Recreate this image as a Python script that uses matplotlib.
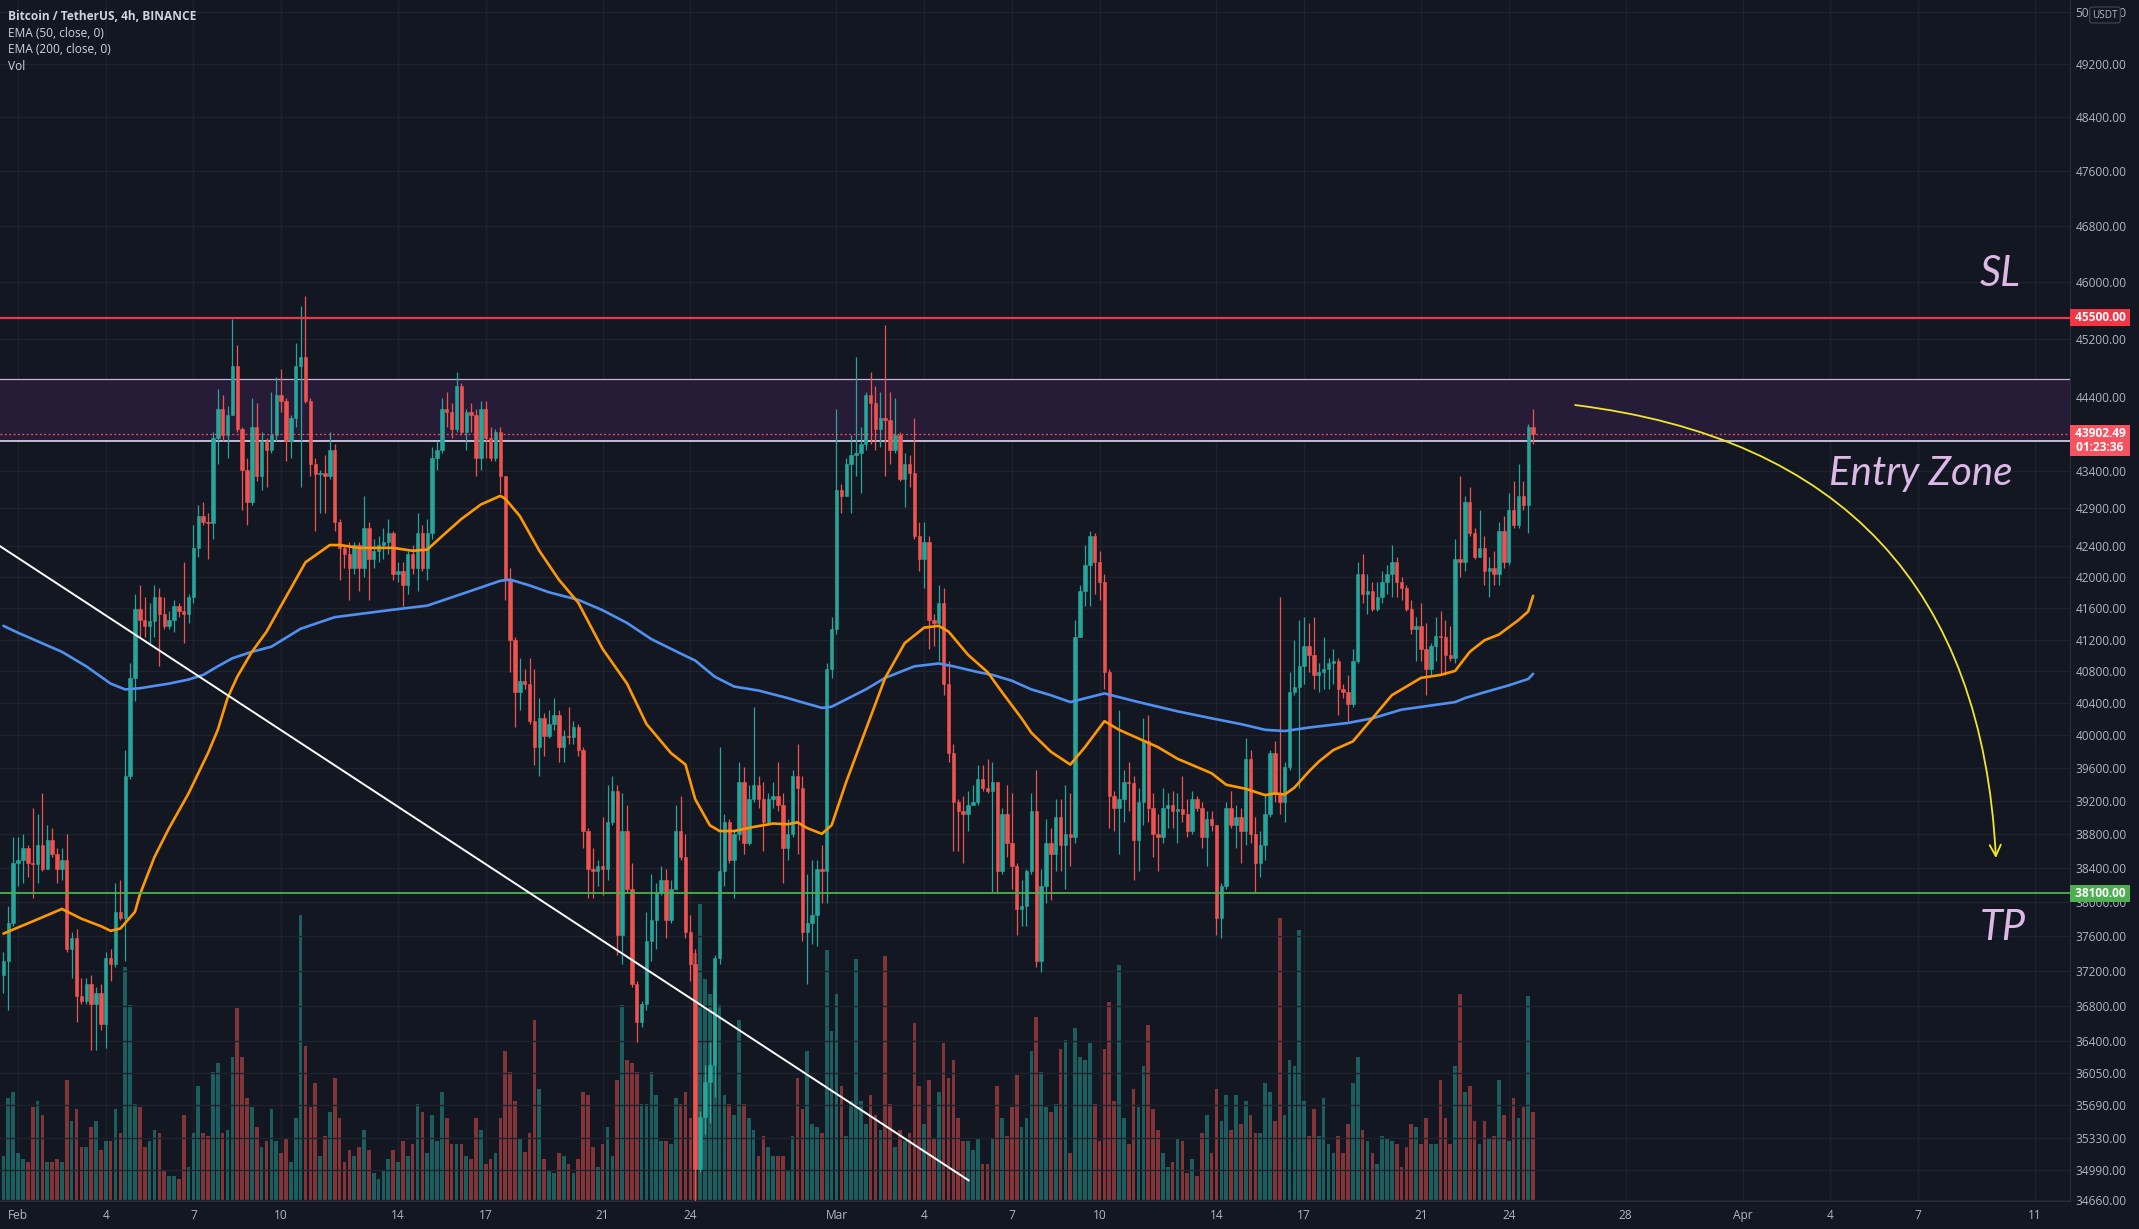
"""
BTCUSDT 4h (Binance) - TradingView style dark chart with EMA50/EMA200,
volume overlay, SL / Entry Zone / TP levels and a projected move arrow.
Output: out.png
"""
import numpy as np
import pandas as pd
import matplotlib
matplotlib.use("Agg")
import matplotlib.pyplot as plt
import matplotlib.dates as mdates
from matplotlib.ticker import NullLocator
from matplotlib.transforms import blended_transform_factory

plt.rcParams['font.family'] = ['Open Sans', 'DejaVu Sans']

BG = "#131722"; UP = "#26a69a"; DN = "#ef5350"; TXT = "#b2b5be"; GRID = "#1e222d"
ORANGE = "#ff9800"; BLUE = "#5090f0"; SLRED = "#f23645"; TPGREEN = "#4caf50"; PINK = "#dcb8e6"

# ---------- data (4h candles, first one 2022-01-31 12:00) ----------
start = "2022-01-31 12:00"
first_open = 37150
closes = [
    37315, 37750, 38460, 38495, 38632, 38460, 38447, 38667, 38392, 38736,
    38563, 38392, 38495, 37448, 37582, 36918, 36852, 37050, 36820, 36951,
    36590, 37348, 37281, 37883, 37816, 39502, 40717, 41597, 41449, 41375,
    41434, 41745, 41523, 41375, 41449, 41634, 41560, 41523, 41745, 42382,
    42799, 42723, 42708, 43841, 44233, 43880, 44155, 44830, 43958, 43414,
    42990, 43997, 43337, 43802, 43685, 43880, 44431, 44352, 43802, 44115,
    44830, 44950, 44352, 43491, 43352, 43368, 43337, 43685, 42723, 42382,
    42306, 42119, 42419, 42119, 42647, 42231, 42344, 42419, 42457, 42571,
    42044, 42081, 41894, 42306, 42119, 42571, 42119, 42571, 43569, 43685,
    44233, 44194, 43958, 44550, 43919, 44194, 44155, 43569, 44233, 43841,
    43569, 43919, 43337, 41969, 41191, 40536, 40681, 40645, 40177, 39856,
    40212, 39998, 40141, 40248, 39856, 39998, 39984, 40105, 39821, 38839,
    38392, 38358, 38426, 38392, 38943, 39327, 37616, 38839, 38153, 37050,
    36623, 36820, 37548, 37783, 38119, 38255, 37783, 38153, 38839, 38529,
    37649, 37281, 34997, 35562, 35945, 36137, 37348, 38358, 38943, 38495,
    38805, 39432, 38701, 39222, 39397, 39222, 38943, 39222, 39257, 39152,
    38632, 38805, 39502, 39362, 37649, 37750, 37850, 38392, 38358, 40826,
    41338, 43144, 43067, 43491, 43607, 43646, 43763, 44431, 44312, 43958,
    44115, 44084, 43685, 43880, 43298, 43491, 43375, 42533, 42231, 42457,
    41449, 41412, 41671, 40645, 39785, 39187, 39082, 39047, 39152, 39187,
    39467, 39362, 39327, 39432, 38358, 39047, 38701, 38426, 37917, 37950,
    38358, 39082, 37315, 38187, 38701, 38563, 39012, 38667, 38805, 38770,
    41228, 41819, 42156, 42533, 42194, 41932, 40790, 39257, 39117, 39222,
    39432, 39418, 38736, 39187, 39927, 39117, 38805, 38770, 39117, 39152,
    39082, 39103, 39047, 38839, 39222, 39117, 38770, 38978, 38908, 37816,
    38187, 39117, 38908, 39012, 38839, 39714, 38805, 38460, 38667, 39047,
    39785, 39292, 39187, 39608, 40536, 40608, 40862, 41118, 41008, 40754,
    40790, 40826, 40898, 40935, 40572, 40536, 40392, 40935, 42044, 41782,
    41819, 41597, 41745, 41932, 42044, 42194, 41932, 41857, 41597, 41338,
    41375, 41082, 40826, 41118, 41250, 41228, 41008, 40971, 42231, 42194,
    42990, 42571, 42269, 42382, 42081, 42119, 42044, 42609, 42194, 42876,
    42685, 43067, 42952, 43997, 43902.49]
highs = [
    37415, 37950, 38770, 38770, 38805, 38667, 39117, 39047, 39292, 38908,
    38874, 38632, 38632, 38805, 37649, 37683, 37116, 37116, 37149, 37017,
    37050, 37415, 37448, 38221, 38255, 39821, 40898, 41782, 41894, 41745,
    41671, 41894, 41857, 41745, 41560, 41708, 41671, 42194, 41782, 42685,
    42952, 42990, 42838, 43919, 44511, 44431, 44273, 45479, 45111, 43997,
    43569, 44392, 44312, 43919, 43841, 44471, 44670, 44790, 44392, 44155,
    45151, 45659, 45806, 44392, 43569, 43414, 43607, 43919, 43763, 42761,
    42419, 42457, 42457, 42457, 43067, 42723, 42495, 42533, 42647, 42761,
    42609, 42194, 42194, 42344, 42419, 42838, 42685, 42761, 43724, 43802,
    44392, 44471, 44312, 44750, 44590, 44233, 44312, 44233, 44352, 44352,
    43997, 43958, 43997, 43337, 42119, 41228, 40971, 40826, 40971, 40826,
    40464, 40284, 40320, 40464, 40320, 40070, 40356, 40177, 40141, 39856,
    38874, 38632, 38495, 39012, 39397, 39502, 39397, 39292, 39152, 38460,
    37083, 36852, 37883, 38324, 38221, 38426, 38392, 38255, 39152, 39257,
    38805, 37850, 37448, 35626, 36137, 36396, 37381, 39856, 39047, 38978,
    38839, 39679, 39608, 39397, 40356, 39502, 39432, 39292, 39432, 39679,
    39292, 38978, 39573, 39892, 39502, 38324, 38495, 38495, 38667, 40898,
    41486, 44233, 43221, 43569, 43880, 44950, 43997, 44471, 44750, 44550,
    44471, 45398, 44471, 44392, 43919, 43646, 43607, 44115, 42723, 42723,
    42533, 41523, 41894, 41857, 40935, 39892, 39222, 39257, 39327, 39397,
    39643, 39643, 39714, 39679, 39432, 39117, 39397, 39292, 38460, 38255,
    38392, 39292, 39573, 38392, 38978, 38874, 39222, 39222, 39397, 39292,
    41449, 41894, 42419, 42609, 42571, 42344, 42044, 40826, 39327, 40320,
    39573, 39679, 39502, 39362, 40212, 40248, 39292, 39047, 39362, 39292,
    39327, 39292, 39502, 39222, 39327, 39257, 39187, 39082, 39082, 38908,
    38221, 39187, 39327, 39152, 39117, 39963, 39821, 39012, 38839, 39292,
    39821, 39927, 41745, 39679, 40790, 41191, 41449, 41486, 41412, 41486,
    40898, 41228, 40971, 41082, 40971, 40645, 40754, 41082, 42194, 42306,
    42044, 41932, 41932, 42081, 42156, 42419, 42269, 42006, 41894, 41708,
    41486, 41671, 41412, 41155, 41486, 41560, 41449, 41375, 42495, 43337,
    43067, 43182, 42647, 42876, 42533, 42269, 42344, 42723, 42799, 43105,
    43260, 43491, 43260, 44036, 44233]
lows = [
    36950, 36755, 37716, 38187, 38221, 38290, 38051, 38221, 38358, 38392,
    38529, 38221, 38255, 37415, 37116, 36623, 36820, 36820, 36299, 36299,
    36525, 36331, 37083, 37248, 37783, 37315, 39467, 40428, 41228, 41228,
    41155, 41228, 40862, 41338, 41338, 41302, 41486, 41155, 41412, 41671,
    42269, 42685, 42231, 42495, 43491, 43802, 43569, 44155, 43919, 42876,
    42685, 42952, 43260, 43144, 43182, 43646, 43802, 44194, 43530, 43569,
    43997, 43182, 44312, 43337, 42609, 42838, 42838, 43298, 42609, 41969,
    42119, 41708, 42044, 41819, 42006, 41708, 42119, 42194, 42231, 42306,
    41969, 41932, 41634, 41782, 42044, 41819, 42081, 41969, 42495, 43414,
    43646, 43997, 43841, 43919, 43880, 43685, 43919, 43337, 43414, 43569,
    43530, 43530, 43105, 41708, 40790, 40105, 40320, 40572, 40141, 39643,
    39502, 39750, 39963, 40070, 39679, 39679, 39892, 39892, 39750, 38632,
    38051, 38051, 38187, 38085, 38255, 38908, 37381, 37281, 38119, 37017,
    36396, 36558, 36754, 37315, 37448, 38085, 37582, 37750, 38153, 38495,
    37582, 37083, 34320, 34966, 35373, 35499, 35785, 37281, 38187, 38460,
    38051, 38736, 38563, 38667, 39187, 39117, 38598, 38908, 39117, 39082,
    38221, 38495, 38770, 38563, 37548, 37050, 37515, 37482, 37983, 37983,
    40717, 41265, 42838, 43067, 42838, 43337, 43105, 43685, 43763, 43685,
    43724, 43337, 43491, 43646, 43260, 42914, 43182, 42495, 42081, 41857,
    41082, 41118, 40935, 40500, 39679, 38598, 38598, 38460, 38839, 39152,
    39152, 39327, 39292, 38119, 38119, 38324, 38529, 38153, 37616, 37716,
    37716, 38324, 37248, 37182, 37983, 38017, 38358, 38358, 38153, 38426,
    38701, 41228, 41634, 41634, 41782, 41708, 40572, 38874, 38839, 38563,
    38943, 39082, 38255, 38358, 38908, 38943, 38529, 38358, 38701, 38874,
    38874, 38701, 38943, 38770, 38805, 39082, 38632, 38426, 38839, 37616,
    37582, 38153, 38874, 38632, 38460, 38667, 38701, 38119, 38290, 38495,
    39012, 39187, 39047, 38943, 39573, 40500, 39362, 40645, 40790, 40572,
    40536, 40572, 40572, 40645, 40248, 40464, 40177, 40356, 40898, 41671,
    41523, 41560, 41560, 41671, 41782, 41745, 41745, 41708, 41560, 41265,
    40935, 40935, 40500, 40754, 40935, 40754, 40754, 40935, 40898, 42006,
    42081, 42533, 42231, 42269, 41894, 41745, 41894, 41894, 42119, 42156,
    42647, 42647, 42876, 42571, 43763]
volumes = [
    3120, 7120, 7520, 3320, 2920, 2720, 6520, 6920, 5920, 2720,
    2720, 2920, 2720, 8320, 5520, 6320, 3720, 3720, 5120, 5520,
    3520, 4120, 4120, 6320, 4720, 16120, 13520, 6720, 6520, 3720,
    4120, 4920, 4720, 2120, 1720, 1720, 1520, 5920, 2320, 4720,
    7920, 4720, 4520, 8920, 9520, 4720, 4920, 9920, 13320, 9920,
    7120, 6520, 5120, 3720, 4120, 6320, 4120, 3320, 4320, 2720,
    5720, 19720, 10720, 6520, 8120, 3120, 4520, 6120, 8520, 5720,
    2720, 3520, 3120, 3720, 4920, 3520, 1920, 1520, 2120, 2920,
    3520, 2720, 4120, 3120, 3920, 6720, 6120, 3320, 5920, 4120,
    7520, 5720, 3920, 3920, 3920, 3120, 2920, 5720, 4920, 2520,
    2920, 3320, 5720, 10320, 8920, 6920, 4320, 3400, 4720, 12520,
    7720, 2920, 2120, 1920, 3320, 3120, 2520, 1920, 2920, 7520,
    7320, 3720, 2320, 3920, 5120, 3120, 8320, 13520, 9720, 9520,
    8920, 6720, 6720, 8920, 7320, 4120, 4120, 3920, 7120, 6720,
    7520, 5720, 17120, 20520, 15320, 14320, 14720, 13520, 7320, 6720,
    5920, 12520, 6720, 5720, 4920, 3120, 4520, 3720, 3120, 3120,
    3120, 2120, 4520, 8520, 6320, 10320, 5320, 5120, 4720, 17320,
    11720, 14320, 7920, 4520, 6920, 16720, 6920, 5320, 7320, 5920,
    4920, 16920, 6720, 3720, 4920, 4120, 4720, 12320, 7920, 5320,
    8320, 4320, 7520, 10920, 8520, 9720, 5720, 4120, 4120, 3520,
    4320, 2520, 2520, 4320, 7920, 5720, 4520, 6520, 8720, 5120,
    5720, 10320, 12720, 8920, 6520, 6120, 6720, 10520, 11120, 3320,
    11920, 9920, 9720, 10920, 6720, 4120, 10520, 13720, 6920, 16320,
    5720, 3920, 7720, 6520, 9320, 12120, 6320, 4920, 3320, 2320,
    2720, 4320, 4120, 1920, 2920, 1720, 4720, 5920, 3320, 7720,
    5520, 7320, 4920, 7320, 5320, 6920, 5920, 4720, 4720, 8120,
    7520, 5520, 19520, 5920, 9720, 9320, 18720, 6920, 4520, 6320,
    4520, 7120, 3920, 3320, 4520, 3320, 5320, 8120, 9920, 4920,
    4120, 3320, 2520, 4520, 4320, 4120, 3920, 2320, 3720, 5320,
    5120, 3920, 5720, 3920, 3920, 8320, 5720, 3920, 9320, 14320,
    7520, 7920, 5520, 3920, 5520, 4320, 4520, 8320, 5920, 4120,
    7120, 5720, 6520, 14120, 6120]

# EMA values (candle index -> value)
ema50_idx = [0, 7, 12, 16, 20, 22, 24, 27, 28, 31, 34, 38, 42, 44, 46, 48, 51, 54, 57, 62,
             67, 69, 73, 77, 80, 84, 87, 90, 94, 98, 102, 103, 106, 110, 114, 118, 123, 128, 132, 137,
             140, 142, 145, 147, 150, 154, 158, 161, 163, 165, 168, 170, 173, 177, 181, 185, 189, 192, 194, 198,
             202, 205, 209, 211, 215, 219, 222, 226, 229, 233, 237, 241, 248, 251, 255, 259, 261, 263, 265, 268,
             270, 273, 277, 281, 285, 288, 291, 295, 298, 301, 304, 307, 311, 313, 314]
ema50_val = [37630, 37796, 37917, 37803, 37716, 37662, 37689, 37883, 38085, 38529, 38874, 39292, 39785, 40070, 40464, 40732, 41045, 41300, 41634, 42194,
             42419, 42419, 42382, 42382, 42382, 42344, 42359, 42533, 42761, 42952, 43067, 43029, 42800, 42344, 41969, 41671, 41082, 40645, 40141, 39785,
             39643, 39222, 38908, 38839, 38839, 38888, 38929, 38920, 38943, 38874, 38805, 38908, 39432, 40070, 40717, 41155, 41353, 41375, 41302, 41008,
             40790, 40536, 40212, 40034, 39800, 39643, 39856, 40177, 40070, 39963, 39856, 39714, 39537, 39397, 39348, 39271, 39292, 39278, 39362, 39560,
             39679, 39821, 39927, 40212, 40500, 40608, 40717, 40754, 40805, 41045, 41191, 41265, 41449, 41560, 41760]
ema200_idx = [0, 3, 12, 17, 22, 25, 28, 34, 38, 41, 44, 47, 51, 55, 61, 68, 80, 87, 94, 102,
              104, 108, 112, 118, 123, 128, 133, 139, 142, 146, 150, 155, 161, 163, 168, 170, 177, 181, 187, 192,
              195, 200, 203, 207, 211, 215, 219, 226, 233, 241, 248, 254, 259, 263, 268, 276, 281, 287, 298, 300,
              304, 309, 313, 314]
ema200_val = [41375, 41287, 41045, 40862, 40645, 40572, 40587, 40645, 40696, 40754, 40862, 40964, 41045, 41110, 41338, 41486, 41582, 41634, 41782, 41954,
              41969, 41894, 41805, 41708, 41575, 41412, 41206, 41023, 40935, 40732, 40608, 40558, 40464, 40428, 40342, 40356, 40572, 40717, 40862, 40898,
              40862, 40790, 40754, 40681, 40572, 40500, 40414, 40522, 40414, 40299, 40212, 40141, 40070, 40055, 40098, 40155, 40212, 40320, 40414, 40464,
              40536, 40623, 40703, 40768]

sl_price = 45500
tp_price = 38100
zone_lo, zone_hi = 43800, 44650
last_price = 43902.49
countdown = "01:23:36"
trend_pts = [("2022-01-31 00:00", 42500), ("2022-03-05 12:30", 34873)]
arrow_from = ("2022-03-26 06:30", 44290)
arrow_to = ("2022-04-09 16:00", 38517)

price_ticks = [50000, 49200, 48400, 47600, 46800, 46000, 45200, 44400, 43400, 42900, 42400, 42000,
               41600, 41200, 40800, 40400, 40000, 39600, 39200, 38800, 38400, 38000, 37600, 37200,
               36800, 36400, 36050, 35690, 35330, 34990, 34660]
date_ticks = ["2022-02-01", "2022-02-04", "2022-02-07", "2022-02-10", "2022-02-14", "2022-02-17", "2022-02-21",
              "2022-02-24", "2022-03-01", "2022-03-04", "2022-03-07", "2022-03-10", "2022-03-14", "2022-03-17",
              "2022-03-21", "2022-03-24", "2022-03-28", "2022-04-01", "2022-04-04", "2022-04-07", "2022-04-11"]
date_labels = ["Feb", "4", "7", "10", "14", "17", "21", "24", "Mar", "4", "7", "10", "14", "17",
               "21", "24", "28", "Apr", "4", "7", "11"]

# ---------- build ----------
def dnum(s):
    return mdates.date2num(pd.Timestamp(s).to_pydatetime())

x = mdates.date2num(pd.date_range(start, periods=len(closes), freq="4h").to_pydatetime())
o = np.array([first_open] + closes[:-1], dtype=float)
c = np.array(closes, dtype=float)
h = np.array(highs, dtype=float)
l = np.array(lows, dtype=float)
cols = np.where(c >= o, UP, DN)

W, H = 2139, 1229
fig = plt.figure(figsize=(W / 100, H / 100), dpi=100, facecolor=BG)
rect = [0, 28 / H, 2070 / W, 1201 / H]
xl = (dnum("2022-01-31 09:10"), dnum("2022-04-12 04:50"))
tick_x = [dnum(d) for d in date_ticks]

# volume pane (underneath)
axv = fig.add_axes(rect)
axv.set_facecolor(BG)
axv.bar(x, volumes, width=0.125, color=cols, alpha=0.5, lw=0)
axv.set_xlim(xl); axv.set_ylim(0, 82900)
axv.set_xticks(tick_x); axv.set_yticks([])
axv.set_axisbelow(True)
axv.grid(axis="x", color=GRID, lw=1)
axv.tick_params(labelbottom=False, length=0)
for s in axv.spines.values():
    s.set_visible(False)

# price pane
ax = fig.add_axes(rect)
ax.set_facecolor("none")
ax.set_yscale("log")
ax.set_axisbelow(True)
ax.grid(axis="y", color=GRID, lw=1)

ax.axhspan(zone_lo, zone_hi, color="#271c37", lw=0, zorder=1)
ax.axhline(zone_hi, color="#c4b3d8", lw=0.9, zorder=2)
ax.axhline(zone_lo, color="#e2d6f0", lw=1.2, zorder=2)

ax.vlines(x, l, h, colors=cols, lw=0.9, zorder=3)
ax.bar(x, np.abs(c - o), bottom=np.minimum(o, c), width=0.117, color=cols,
       edgecolor=cols, lw=0.4, zorder=4)

ax.plot(x[ema200_idx], ema200_val, color=BLUE, lw=1.9, zorder=5, solid_capstyle="round")
ax.plot(x[ema50_idx], ema50_val, color=ORANGE, lw=1.9, zorder=5, solid_capstyle="round")

ax.axhline(sl_price, color=SLRED, lw=1.6, zorder=6)
ax.axhline(tp_price, color=TPGREEN, lw=1.3, zorder=6)
ax.axhline(last_price, color="#f7525f", lw=0.9, ls=(0, (1.5, 2)), zorder=6)

ax.plot([dnum(p[0]) for p in trend_pts], [p[1] for p in trend_pts], color="white", lw=1.4, zorder=6)

ax.annotate("", xy=(dnum(arrow_to[0]), arrow_to[1]), xytext=(dnum(arrow_from[0]), arrow_from[1]),
            arrowprops=dict(arrowstyle="->,head_length=0.8,head_width=0.4", color="#f2e62c", lw=1.3,
                            connectionstyle="arc3,rad=-0.42", shrinkA=0, shrinkB=0), zorder=7)

lab_kw = dict(color=PINK, style="italic", family=["Lato", "DejaVu Sans"], ha="center", va="baseline", zorder=8)
ax.text(dnum("2022-04-09 19:30"), 45945, "SL", fontsize=30, **lab_kw)
ax.text(dnum("2022-04-07 02:30"), 43210, "Entry Zone", fontsize=29, **lab_kw)
ax.text(dnum("2022-04-09 22:00"), 37551, "TP", fontsize=30, **lab_kw)

ax.set_xlim(xl)
ax.set_ylim(34652, 50181)

# axes / ticks
ax.yaxis.tick_right()
ax.set_yticks(price_ticks)
ax.set_yticklabels([f"{p:.2f}" for p in price_ticks])
ax.yaxis.set_minor_locator(NullLocator())
ax.tick_params(axis="y", length=0, pad=4.0, labelsize=8.6, labelcolor=TXT)
ax.set_xticks(tick_x)
ax.set_xticklabels(date_labels)
ax.tick_params(axis="x", length=0, pad=5.5, labelsize=8.6, labelcolor=TXT)
for k in ("top", "left"):
    ax.spines[k].set_visible(False)
for k in ("right", "bottom"):
    ax.spines[k].set_color("#2a2e39")

# price scale labels
tr = blended_transform_factory(ax.transAxes, ax.transData)
box_kw = dict(transform=tr, ha="left", va="center", fontsize=8.6, fontweight="bold", color="white",
              clip_on=False, zorder=10)
ax.text(1.0008, sl_price, f" {sl_price:.2f} ", bbox=dict(boxstyle="square,pad=0.15", fc=SLRED, ec="none"), **box_kw)
ax.text(1.0008, tp_price, f" {tp_price:.2f} ", bbox=dict(boxstyle="square,pad=0.15", fc=TPGREEN, ec="none"), **box_kw)
ax.annotate(f" {last_price:.2f} \n {countdown} ", xy=(1.0008, last_price), xycoords=tr,
            xytext=(0, -5), textcoords="offset points", ha="left", va="center", multialignment="center",
            fontsize=8.6, fontweight="bold", color="white", annotation_clip=False, zorder=10,
            linespacing=1.1, bbox=dict(boxstyle="square,pad=0.15", fc="#f7525f", ec="none"))

fig.text(2105 / W, 1 - 15 / H, "USDT", fontsize=7.2, color=TXT, ha="center", va="center",
         bbox=dict(boxstyle="round,pad=0.25", fc=BG, ec="#434651", lw=0.8))

# legend block
fig.text(8 / W, 1 - 17 / H, "Bitcoin / TetherUS, 4h, BINANCE", color="#d1d4dc", fontsize=8.6,
         fontweight="bold", va="center")
for k, t in enumerate(["EMA (50, close, 0)", "EMA (200, close, 0)", "Vol"]):
    fig.text(8 / W, 1 - (33.5 + 16.4 * k) / H, t, color="#d1d4dc", fontsize=8.6, va="center")

fig.savefig("out.png", dpi=100, facecolor=BG)
print("OK out.png")
